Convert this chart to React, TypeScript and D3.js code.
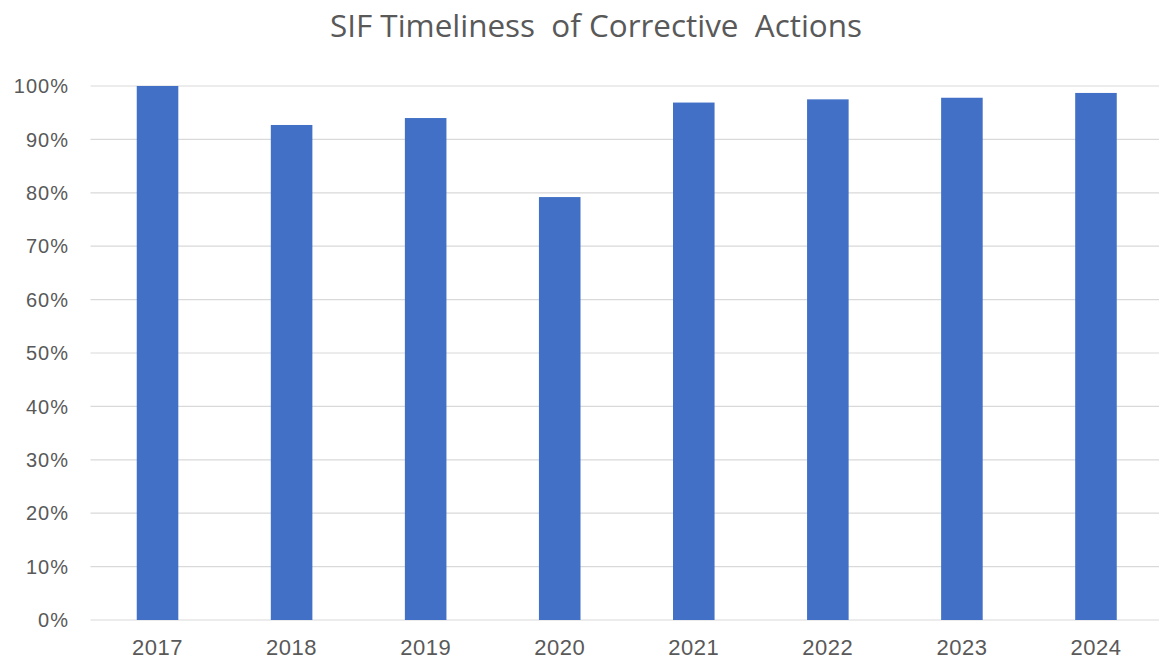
import React from "react";
import * as d3 from "d3";

const title = "SIF Timeliness  of Corrective  Actions";
const years = ["2017", "2018", "2019", "2020", "2021", "2022", "2023", "2024"];
const values = [1.0, 0.927, 0.94, 0.792, 0.969, 0.975, 0.978, 0.987];
const yTicks = [0, 0.1, 0.2, 0.3, 0.4, 0.5, 0.6, 0.7, 0.8, 0.9, 1.0];

const W = 1159;
const H = 660;
const M = { left: 90.5, right: 1163, top: 86, bottom: 620 };

export default function App() {
  const x = d3.scaleBand<string>().domain(years).range([M.left, M.right]).paddingInner(0.69).paddingOuter(0.345);
  const y = d3.scaleLinear().domain([0, 1]).range([M.bottom, M.top]);
  const fmt = d3.format(".0%");
  return (
    <svg width={W} height={H} style={{ position: "absolute", left: 0, top: 0, background: "#fff" }}>
      <text x={596} y={37} textAnchor="middle" fontFamily="'Open Sans', 'Noto Sans', sans-serif" fontSize={31} fill="#595959" textLength={532} lengthAdjust="spacingAndGlyphs" style={{ whiteSpace: "pre" }}>
        {title}
      </text>
      {yTicks.map((t) => (
        <g key={t}>
          <line x1={M.left} x2={W} y1={y(t)} y2={y(t)} stroke="#d9d9d9" strokeWidth={1.2} />
          <text x={69} y={y(t)} dy="0.36em" textAnchor="end" fontFamily="'Liberation Sans', Arial, sans-serif" fontSize={20} letterSpacing={1} fill="#595959">
            {fmt(t)}
          </text>
        </g>
      ))}
      {years.map((yr, i) => (
        <rect key={yr} x={x(yr)} y={y(values[i])} width={x.bandwidth()} height={y(0) - y(values[i])} fill="#4170c6" />
      ))}
      {years.map((yr) => (
        <text key={yr} x={(x(yr) as number) + x.bandwidth() / 2} y={655} textAnchor="middle" fontFamily="'Liberation Sans', Arial, sans-serif" fontSize={22} letterSpacing={0.5} fill="#595959">
          {yr}
        </text>
      ))}
    </svg>
  );
}
